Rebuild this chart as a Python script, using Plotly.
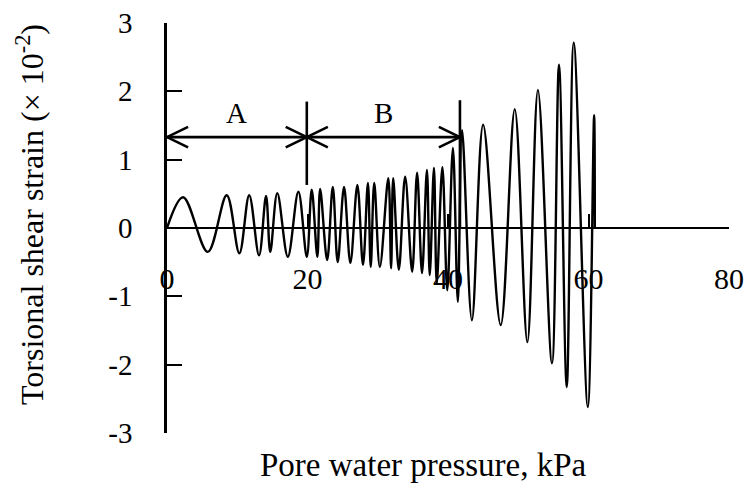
import plotly.graph_objects as go

# Turning points of the torsional shear strain record (x 10^-2) against pore water pressure (kPa)
pressure_kpa = [0.0, 2.3, 5.8, 8.5, 10.3, 11.7, 13.1, 14.1, 14.7, 15.7, 17.2, 18.7, 19.9,
                20.6, 21.4, 21.8, 22.8, 23.6, 24.3, 25.2, 26.1, 27.1, 27.9, 28.6, 29.0,
                29.5, 30.3, 31.5, 31.9, 32.2, 33.0, 33.9, 34.9, 35.6, 36.3, 37.0, 37.4,
                38.0, 38.4, 39.2, 39.9, 40.7, 41.4, 42.0, 43.4, 45.0, 47.5, 49.5, 51.3,
                52.8, 54.8, 55.8, 56.9, 57.9, 59.9, 60.8, 60.9]
shear_strain = [0.0, 0.45, -0.35, 0.48, -0.37, 0.48, -0.40, 0.47, -0.35, 0.51, -0.42, 0.53, -0.42,
                0.56, -0.42, 0.57, -0.47, 0.60, -0.50, 0.60, -0.51, 0.63, -0.54, 0.66, -0.57,
                0.66, -0.57, 0.73, -0.59, 0.73, -0.61, 0.75, -0.64, 0.81, -0.66, 0.85, -0.69,
                0.88, -0.81, 0.89, -0.91, 1.17, -1.08, 1.43, -1.35, 1.51, -1.42, 1.74, -1.67,
                2.02, -1.98, 2.39, -2.33, 2.71, -2.62, 1.65, 0.0]

# Stage A / stage B extents along the pressure axis
stage_names = ["A", "B"]
stage_bounds = [0.0, 19.9, 41.7]
stage_level = 1.33
divider_tops = [1.85, 1.87]
divider_bottoms = [0.63, 0.0]

x_tick_vals = [0, 20, 40, 60, 80]
x_tick_labels = ["0", "20", "40", "60", "80"]
y_tick_vals = [-3, -2, -1, 0, 1, 2, 3]
y_tick_labels = ["-3", "-2", "-1", "0", "1", "2", "3"]

FONT = "Liberation Serif, Times New Roman, serif"
ARM_DX = 3.0
ARM_DY = 0.15

fig = go.Figure()

fig.add_trace(go.Scatter(
    x=pressure_kpa, y=shear_strain, mode="lines",
    line=dict(color="black", width=2.4, shape="spline", smoothing=1),
    hoverinfo="skip", showlegend=False,
))

# Dimension line with open arrowheads at each stage boundary
ax, ay = [stage_bounds[0], stage_bounds[-1], None], [stage_level, stage_level, None]
for a, b in zip(stage_bounds[:-1], stage_bounds[1:]):
    ax += [a + ARM_DX, a, a + ARM_DX, None, b - ARM_DX, b, b - ARM_DX, None]
    ay += [stage_level + ARM_DY, stage_level, stage_level - ARM_DY, None,
           stage_level + ARM_DY, stage_level, stage_level - ARM_DY, None]
for xb, top, bot in zip(stage_bounds[1:], divider_tops, divider_bottoms):
    ax += [xb, xb, None]
    ay += [top, bot, None]
fig.add_trace(go.Scatter(
    x=ax, y=ay, mode="lines", line=dict(color="black", width=2.6),
    hoverinfo="skip", showlegend=False,
))

for name, a, b in zip(stage_names, stage_bounds[:-1], stage_bounds[1:]):
    fig.add_annotation(x=(a + b) / 2, y=stage_level, yshift=24, text=name,
                       showarrow=False, font=dict(family=FONT, size=29, color="black"))

fig.add_annotation(text="Torsional shear strain (× 10<sup>-2</sup>)",
                   xref="paper", yref="paper", x=0, y=0.5, xshift=-137, yshift=13,
                   xanchor="center", yanchor="middle",
                   textangle=-90, showarrow=False,
                   font=dict(family=FONT, size=32, color="black"))
fig.add_annotation(text="Pore water pressure, kPa",
                   xref="paper", yref="paper", x=0.457, y=0, xanchor="center",
                   yanchor="middle", yshift=-32,
                   showarrow=False, font=dict(family=FONT, size=33, color="black"))

fig.update_layout(
    template="none",
    width=745, height=483,
    margin=dict(l=167, r=16, t=23, b=50, autoexpand=False),
    paper_bgcolor="white", plot_bgcolor="white",
    xaxis=dict(range=[0, 80], anchor="free", position=0.5, automargin=False,
               showline=True, linecolor="black", linewidth=2,
               ticks="inside", ticklen=13, tickwidth=2, tickcolor="black",
               tickvals=x_tick_vals, ticktext=x_tick_labels, ticklabelstandoff=24,
               tickfont=dict(family=FONT, size=30, color="black"),
               showgrid=False, zeroline=False),
    yaxis=dict(range=[-3, 3], automargin=False,
               showline=True, linecolor="black", linewidth=2.5,
               ticks="inside", ticklen=15, tickwidth=2, tickcolor="black",
               tickvals=y_tick_vals, ticktext=y_tick_labels, ticklabelstandoff=26,
               tickfont=dict(family=FONT, size=29, color="black"),
               showgrid=False, zeroline=False),
)

fig.write_html("out.html")
